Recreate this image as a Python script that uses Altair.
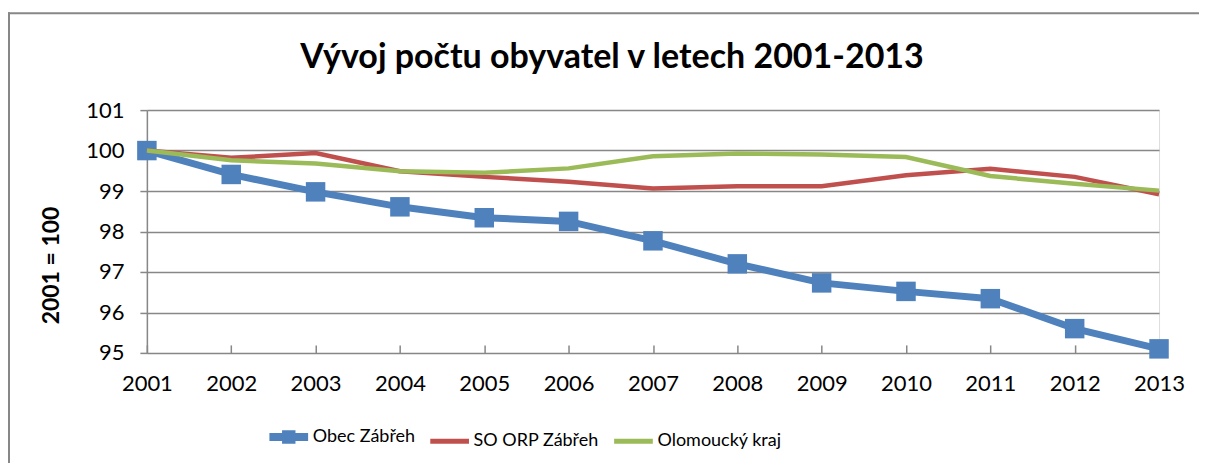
import altair as alt
import pandas as pd

years = list(range(2001, 2014))
obec = [100, 99.41, 98.98, 98.61, 98.34, 98.25, 97.77, 97.2, 96.73, 96.52, 96.34, 95.6, 95.1]
orp = [100, 99.82, 99.94, 99.49, 99.35, 99.23, 99.06, 99.12, 99.12, 99.39, 99.55, 99.35, 98.92]
kraj = [100, 99.76, 99.68, 99.49, 99.45, 99.56, 99.86, 99.93, 99.9, 99.84, 99.37, 99.18, 99.01]
series = ["Obec Zábřeh", "SO ORP Zábřeh", "Olomoucký kraj"]
colors = ["#4F81BD", "#C0504D", "#9BBB59"]
y_ticks = [95, 96, 97, 98, 99, 100, 101]

rows = []
for name, vals in zip(series, [obec, orp, kraj]):
    for yr, v in zip(years, vals):
        rows.append({"rok": yr, "hodnota": v, "serie": name})
df = pd.DataFrame(rows)

FONT = "Lato"
PL, PT, W, H = 139, 102, 1013, 243

legend = alt.Legend(
    title=None, orient="none", legendX=133, legendY=318, direction="horizontal",
    columns=3, labelFont=FONT, labelFontSize=18, labelColor="#000000",
    labelOffset=15, columnPadding=4, symbolSize=1500,
    symbolType=alt.ExprRef("datum.index === 0 ? 'M-1,0H1M-0.14,-0.14H0.14V0.14H-0.14Z' : 'M-1,0H1'"),
    symbolStrokeWidth=alt.ExprRef("datum.index === 0 ? 8 : 5"),
    symbolFillColor=alt.ExprRef("datum.index === 0 ? '#4F81BD' : 'transparent'"),
    symbolOpacity=1,
)

color = alt.Color("serie:N", scale=alt.Scale(domain=series, range=colors), legend=legend)

x = alt.X("rok:Q", scale=alt.Scale(domain=[2001, 2013], nice=False),
          axis=alt.Axis(title=None, values=years, format="d", grid=False, domain=False,
                        offset=-8, tickSize=8, tickColor="#878787", tickWidth=1.5,
                        labelFont=FONT, labelFontSize=22, labelColor="#000000",
                        labelPadding=21, labelFlush=False))
y = alt.Y("hodnota:Q", scale=alt.Scale(domain=[95, 101], nice=False, zero=False),
          axis=alt.Axis(title="2001 = 100", values=y_ticks, format="d",
                        grid=True, gridColor="#878787", gridWidth=1.5,
                        domain=True, domainColor="#878787", domainWidth=1.5,
                        tickSize=7, tickColor="#878787", tickWidth=1.5,
                        labelFont=FONT, labelFontSize=22, labelColor="#000000",
                        labelPadding=16,
                        titleFont=FONT, titleFontSize=23, titleFontWeight="bold",
                        titleColor="#000000", titleX=-95, titleY=155, titleAngle=-90,
                        titleAlign="center", titleBaseline="middle"))

base = alt.Chart(df)
one = alt.Data(values=[{}])

frame_top = alt.Chart(one).mark_rule(stroke="#878787", strokeWidth=2, clip=False).encode(
    x=alt.value(-139), x2=alt.value(1060), y=alt.value(-97))
frame_left = alt.Chart(one).mark_rule(stroke="#878787", strokeWidth=2, clip=False).encode(
    x=alt.value(-138), y=alt.value(-98), y2=alt.value(400))

blue_line = base.transform_filter(alt.datum.serie == series[0]).mark_line(strokeWidth=7).encode(x=x, y=y, color=color)
blue_pts = base.transform_filter(alt.datum.serie == series[0]).mark_point(
    shape="square", filled=True, size=380, opacity=1).encode(x=x, y=y, color=color)
red_line = base.transform_filter(alt.datum.serie == series[1]).mark_line(strokeWidth=4.5).encode(x=x, y=y, color=color)
green_line = base.transform_filter(alt.datum.serie == series[2]).mark_line(strokeWidth=4.5).encode(x=x, y=y, color=color)

chart = alt.layer(frame_top, frame_left, blue_line, blue_pts, red_line, green_line).properties(
    width=W, height=H,
    title=alt.TitleParams("Vývoj počtu obyvatel v letech 2001-2013", font=FONT, fontSize=34,
                          fontWeight="bold", color="#000000", anchor="middle", dx=-41,
                          baseline="alphabetic", offset=-91),
    padding={"left": PL, "top": PT, "right": 40, "bottom": 110},
    autosize=alt.AutoSizeParams(type="none"),
).configure_view(stroke=None).configure(background="white")

chart.save("out.html", embed_options={"renderer": "svg", "actions": False})
